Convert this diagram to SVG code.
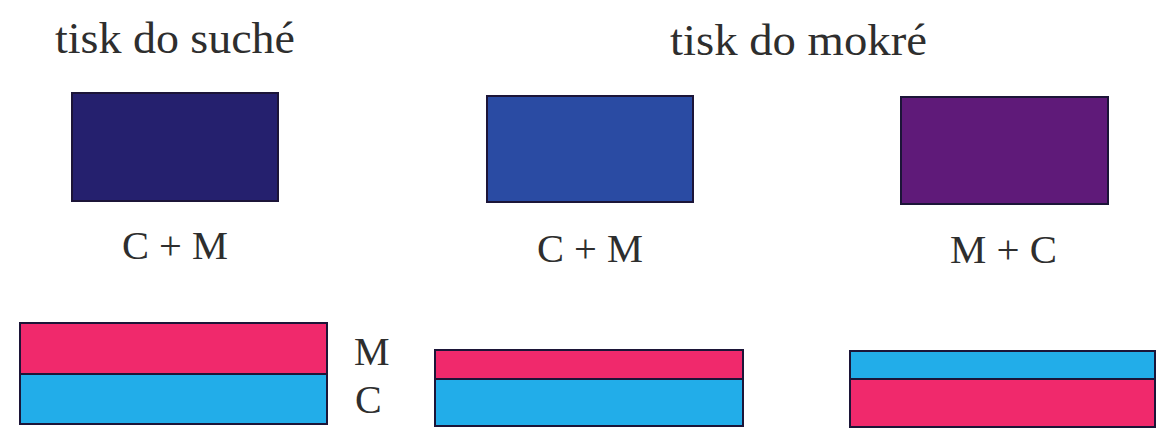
<svg xmlns="http://www.w3.org/2000/svg" width="1165" height="432" viewBox="0 0 1165 432">
<style>
.t{font-family:"Liberation Serif","DejaVu Serif",serif;fill:#2e2e2e;font-size:45px}
.s{font-family:"Liberation Serif","DejaVu Serif",serif;fill:#2e2e2e;font-size:40px}
.b{stroke:#1c1538;stroke-width:2}
.m{fill:#f0296c}
.c{fill:#22ade9}
</style>
<rect width="1165" height="432" fill="#ffffff"/>
<g id="title-dry"><text class="t" x="55" y="53" textLength="240" lengthAdjust="spacingAndGlyphs">tisk do suché</text></g>
<g id="title-wet"><text class="t" x="670" y="55" textLength="257" lengthAdjust="spacingAndGlyphs">tisk do mokré</text></g>
<g id="swatch-dry"><rect class="b" x="72" y="93" width="206" height="108" fill="#25206e"/></g>
<g id="swatch-wet-cm"><rect class="b" x="487" y="96" width="206" height="106" fill="#2a4ba3"/></g>
<g id="swatch-wet-mc"><rect class="b" x="901" y="97" width="207" height="107" fill="#5f1a79"/></g>
<g id="label-1"><text class="s" x="122" y="259" textLength="106" lengthAdjust="spacingAndGlyphs">C + M</text></g>
<g id="label-2"><text class="s" x="537" y="262" textLength="106" lengthAdjust="spacingAndGlyphs">C + M</text></g>
<g id="label-3"><text class="s" x="950" y="263" textLength="107" lengthAdjust="spacingAndGlyphs">M + C</text></g>
<g id="layers-1">
<rect class="m" x="20" y="323" width="307" height="51"/>
<rect class="c" x="20" y="374" width="307" height="50"/>
<rect class="b" x="20" y="323" width="307" height="101" fill="none"/>
<line class="b" x1="20" y1="374" x2="327" y2="374"/>
</g>
<g id="layers-2">
<rect class="m" x="435" y="350" width="308" height="29"/>
<rect class="c" x="435" y="379" width="308" height="47"/>
<rect class="b" x="435" y="350" width="308" height="76" fill="none"/>
<line class="b" x1="435" y1="379" x2="743" y2="379"/>
</g>
<g id="layers-3">
<rect class="c" x="850" y="351" width="305" height="28"/>
<rect class="m" x="850" y="379" width="305" height="48"/>
<rect class="b" x="850" y="351" width="305" height="76" fill="none"/>
<line class="b" x1="850" y1="379" x2="1155" y2="379"/>
</g>
<g id="layer-labels">
<text class="s" x="354" y="365">M</text>
<text class="s" x="355" y="413">C</text>
</g>
<g id="connectors"/>
</svg>
